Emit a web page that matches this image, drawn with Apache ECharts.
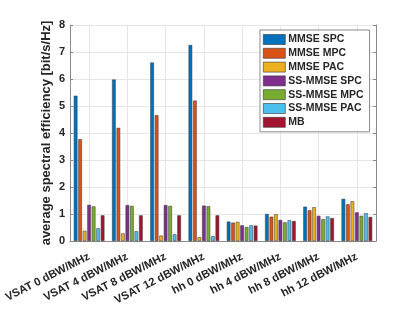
<!DOCTYPE html>
<html><head><meta charset="utf-8">
<script src="https://cdn.jsdelivr.net/npm/echarts@6/dist/echarts.min.js"></script>
<style>html,body{margin:0;padding:0;background:#fff}#c{width:415px;height:312px}</style>
</head><body><div id="c"></div>
<script>
const categories = ['VSAT 0 dBW/MHz','VSAT 4 dBW/MHz','VSAT 8 dBW/MHz','VSAT 12 dBW/MHz','hh 0 dBW/MHz','hh 4 dBW/MHz','hh 8 dBW/MHz','hh 12 dBW/MHz'];
const seriesNames = ['MMSE SPC','MMSE MPC','MMSE PAC','SS-MMSE SPC','SS-MMSE MPC','SS-MMSE PAC','MB'];
const mmseSpc   = [5.38, 5.98, 6.61, 7.26, 0.72, 1.00, 1.27, 1.56];
const mmseMpc   = [3.77, 4.19, 4.66, 5.20, 0.68, 0.90, 1.14, 1.36];
const mmsePac   = [0.38, 0.28, 0.20, 0.14, 0.71, 0.99, 1.25, 1.47];
const ssSpc     = [1.34, 1.33, 1.33, 1.31, 0.58, 0.78, 0.93, 1.06];
const ssMpc     = [1.28, 1.30, 1.30, 1.29, 0.52, 0.69, 0.81, 0.93];
const ssPac     = [0.47, 0.36, 0.25, 0.18, 0.58, 0.77, 0.91, 1.03];
const mb        = [0.95, 0.95, 0.95, 0.95, 0.57, 0.74, 0.85, 0.89];
const yTicks = [0,1,2,3,4,5,6,7,8];
const colors = ['#0072BD','#D95319','#EDB120','#7E2F8E','#77AC30','#4DBEEE','#A2142F'];
const allData = [mmseSpc, mmseMpc, mmsePac, ssSpc, ssMpc, ssPac, mb];
// half-slots used only for the top axis so its ticks/grid fall on the group centres
const halfSlots = categories.flatMap(c => [c + ' a', c + ' b']);

const font = 'Liberation Sans, Arial, Helvetica, sans-serif';
const axCol = '#8a8a8a';
const odd = (i) => i % 2 === 1;
const chart = echarts.init(document.getElementById('c'), null, {renderer:'canvas'});
chart.setOption({
  animation:false,
  color: colors,
  grid:{left:70, right:39, top:25, bottom:71, containLabel:false},
  legend:{
    orient:'vertical', left:260, top:30, data:seriesNames, icon:'rect',
    itemWidth:22, itemHeight:10, itemGap:2.8,
    backgroundColor:'#fff', borderColor:'#8a8a8a', borderWidth:1,
    padding:[4,6,4,3],
    textStyle:{fontFamily:font, fontWeight:'bold', fontSize:10.5, color:'#262626', padding:[0,0,0,-2]},
    itemStyle:{borderColor:'#333', borderWidth:0.6}
  },
  xAxis:[
    {type:'category', data:categories, position:'bottom',
     axisLine:{lineStyle:{color:axCol}}, axisTick:{alignWithLabel:true, inside:true, length:3, lineStyle:{color:axCol}},
     splitLine:{show:false},
     axisLabel:{interval:0, rotate:27, margin:15, fontFamily:font, fontWeight:'bold', fontSize:11.2, color:'#262626'}},
    {type:'category', data:halfSlots, position:'top',
     axisLine:{lineStyle:{color:axCol}},
     axisTick:{interval:odd, inside:true, length:3, lineStyle:{color:axCol}},
     axisLabel:{show:false},
     splitLine:{show:true, interval:odd, lineStyle:{color:'#e6e6e6'}}}
  ],
  yAxis:[
    {type:'value', min:yTicks[0], max:yTicks[yTicks.length-1], interval:1, position:'left',
     name:'average spectral efficiency [bit/s/Hz]', nameLocation:'middle', nameGap:17, nameMoveOverlap:false,
     nameTextStyle:{fontFamily:font, fontWeight:'bold', fontSize:13, color:'#262626'},
     axisLine:{show:true, lineStyle:{color:axCol}}, axisTick:{show:true, inside:true, length:3, lineStyle:{color:axCol}},
     splitLine:{show:true, lineStyle:{color:'#e6e6e6'}},
     axisLabel:{margin:5, fontFamily:font, fontWeight:'bold', fontSize:11, color:'#262626'}},
    {type:'value', min:yTicks[0], max:yTicks[yTicks.length-1], interval:1, position:'right',
     axisLine:{show:true, lineStyle:{color:axCol}}, axisTick:{show:true, inside:true, length:3, lineStyle:{color:axCol}},
     splitLine:{show:false}, axisLabel:{show:false}}
  ],
  series: seriesNames.map((n,i)=>({
    name:n, type:'bar', data:allData[i], xAxisIndex:0, yAxisIndex:0,
    barCategoryGap:'20%', barGap:'25%',
    itemStyle:{color:colors[i], borderColor:'#333', borderWidth:0.5}
  }))
});
</script></body></html>
